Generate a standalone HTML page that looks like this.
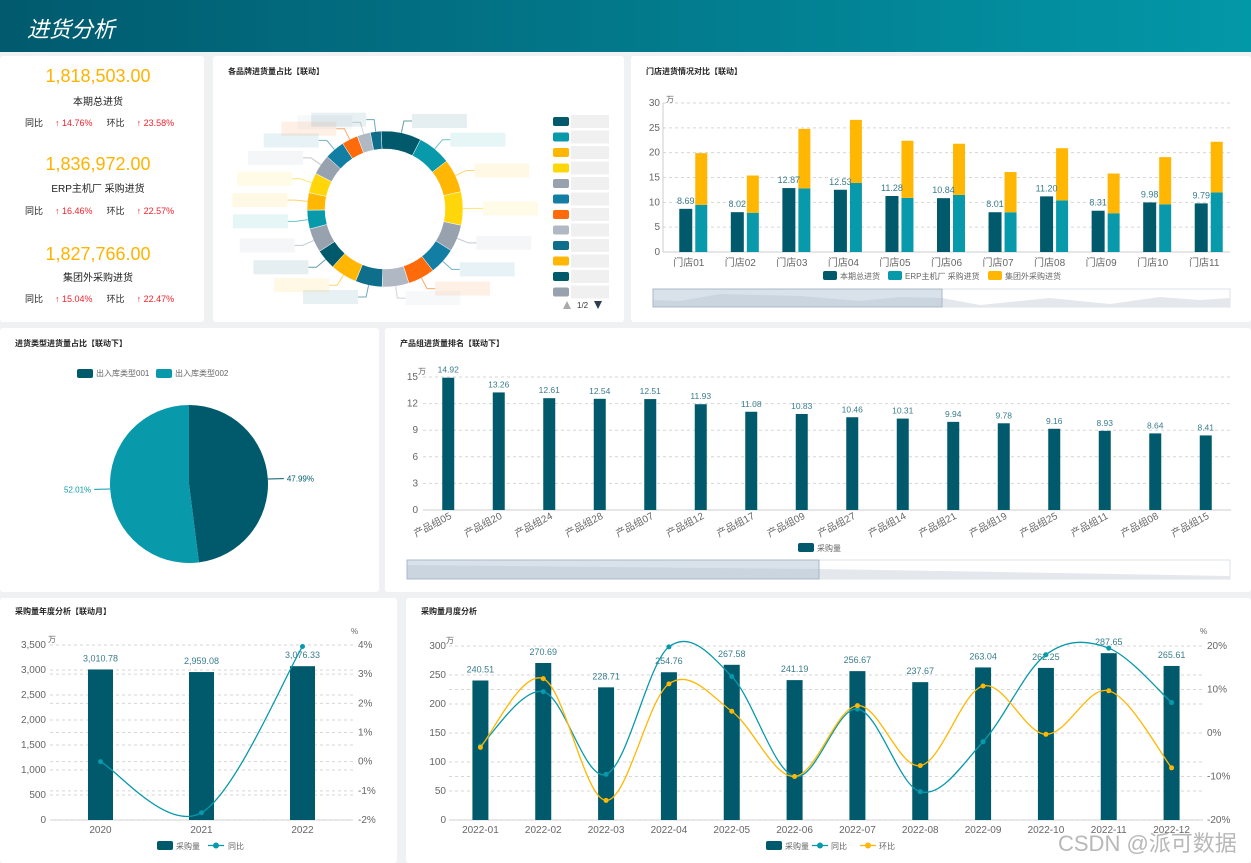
<!DOCTYPE html>
<html><head><meta charset="utf-8">
<style>
body{margin:0;width:1251px;height:863px;background:#f0f1f3;position:relative;overflow:hidden;font-family:"Liberation Sans","Noto Sans CJK SC",sans-serif;}
.hdr{position:absolute;left:0;top:0;width:1251px;height:52px;background:linear-gradient(90deg,#015a6e,#0398a8);}
.hdr span{position:absolute;left:27px;top:12px;color:#fff;font-size:22px;font-style:italic;}
.pn{position:absolute;background:#fff;border-radius:3px;}
.tt{position:absolute;font-size:8px;font-weight:bold;color:#222;}
.kn{position:absolute;width:196px;text-align:center;color:#ffb300;font-size:18px;}
.kl{position:absolute;width:196px;text-align:center;color:#222;font-size:10px;}
.kr{position:absolute;font-size:9px;color:#222;}
.kr b{font-weight:normal;color:#f5222d;margin-left:12px;}
svg{position:absolute;left:0;top:0;}
svg text{font-family:"Liberation Sans","Noto Sans CJK SC",sans-serif;}
</style></head><body>
<div class="hdr"><span>进货分析</span></div>

<div class="pn" style="left:0;top:56px;width:204px;height:266px">
 <div class="kn" style="top:10px">1,818,503.00</div>
 <div class="kl" style="top:37px">本期总进货</div>
 <div class="kr" style="left:25px;top:60px">同比<b>↑ 14.76%</b><span style="margin-left:14px">环比</span><b>↑ 23.58%</b></div>
 <div class="kn" style="top:98px">1,836,972.00</div>
 <div class="kl" style="top:124px">ERP主机厂 采购进货</div>
 <div class="kr" style="left:25px;top:148px">同比<b>↑ 16.46%</b><span style="margin-left:14px">环比</span><b>↑ 22.57%</b></div>
 <div class="kn" style="top:188px">1,827,766.00</div>
 <div class="kl" style="top:213px">集团外采购进货</div>
 <div class="kr" style="left:25px;top:236px">同比<b>↑ 15.04%</b><span style="margin-left:14px">环比</span><b>↑ 22.47%</b></div>
</div>
<div class="pn" style="left:213px;top:56px;width:411px;height:266px"><div class="tt" style="left:15px;top:10px">各品牌进货量占比【联动】</div></div>
<div class="pn" style="left:631px;top:56px;width:620px;height:266px"><div class="tt" style="left:15px;top:10px">门店进货情况对比【联动】</div></div>
<div class="pn" style="left:0;top:328px;width:379px;height:264px"><div class="tt" style="left:15px;top:10px">进货类型进货量占比【联动下】</div></div>
<div class="pn" style="left:385px;top:328px;width:866px;height:264px"><div class="tt" style="left:15px;top:10px">产品组进货量排名【联动下】</div></div>
<div class="pn" style="left:0;top:598px;width:397px;height:265px"><div class="tt" style="left:15px;top:8px">采购量年度分析【联动月】</div></div>
<div class="pn" style="left:406px;top:598px;width:845px;height:265px"><div class="tt" style="left:15px;top:8px">采购量月度分析</div></div>

<svg id="cv" width="1251" height="863"></svg>
<div style="position:absolute;left:1058px;top:826px;font-size:22px;color:rgba(160,160,160,0.75)">CSDN @派可数据</div>

<script>
// ---- data ----
const storeCats=['门店01','门店02','门店03','门店04','门店05','门店06','门店07','门店08','门店09','门店10','门店11'];
const storeTotal=[8.69,8.02,12.87,12.53,11.28,10.84,8.01,11.20,8.31,9.98,9.79];
const storeErp=[9.5,7.9,12.8,13.9,10.9,11.5,8.0,10.4,7.8,9.6,12.0];
const storeExt=[10.4,7.5,12.0,12.7,11.5,10.3,8.1,10.5,8.0,9.5,10.2];
const storeTicks=[0,5,10,15,20,25,30];
const prodCats=['产品组05','产品组20','产品组24','产品组28','产品组07','产品组12','产品组17','产品组09','产品组27','产品组14','产品组21','产品组19','产品组25','产品组11','产品组08','产品组15'];
const prodVals=[14.92,13.26,12.61,12.54,12.51,11.93,11.08,10.83,10.46,10.31,9.94,9.78,9.16,8.93,8.64,8.41];
const prodTicks=[0,3,6,9,12,15];
const monCats=['2022-01','2022-02','2022-03','2022-04','2022-05','2022-06','2022-07','2022-08','2022-09','2022-10','2022-11','2022-12'];
const monVals=[240.51,270.69,228.71,254.76,267.58,241.19,256.67,237.67,263.04,262.25,287.65,265.61];
const monYoy=[-3,9.5,-9.5,19.8,13,-10,5.5,-13.5,-2,18,19.5,7];
const monMom=[-3.3,12.5,-15.5,11.3,5,-10,6.3,-7.5,10.8,-0.3,9.7,-8];
const monTicks=[0,50,100,150,200,250,300];
const monPct=[-20,-10,0,10,20];
const yrCats=['2020','2021','2022'];
const yrVals=[3010.78,2959.08,3076.33];
const yrYoy=[0,-1.75,3.95];
const yrTicks=[0,500,1000,1500,2000,2500,3000,3500];
const yrPct=[-2,-1,0,1,2,3,4];
const pieNames=['出入库类型001','出入库类型002'];
const pieVals=[47.99,52.01];
const brandVals=[30,25,25,25,20,20,20,20,20,20,15,18,14,13,15,15,15,12,10,8];
const brandCols=['#015a6c','#0899ab','#ffb703','#ffd60a','#98a2ae','#137ea3','#ff6b0a','#b0b8c4','#0f6e8c','#ffb703','#015a6c','#98a2ae','#0899ab','#ffb703','#ffd60a','#98a2ae','#137ea3','#ff6b0a','#b0b8c4','#0f6e8c'];

const C1='#015a6c',C2='#0899ab',C3='#ffb703';
const NS='http://www.w3.org/2000/svg';
const cv=document.getElementById('cv');
function mk(t,a,p){const e=document.createElementNS(NS,t);for(const k in a)e.setAttribute(k,a[k]);(p||cv).appendChild(e);return e;}
function lin(d0,d1,r0,r1){return v=>r0+(v-d0)*(r1-r0)/(d1-d0);}
function txt(x,y,s,o){const e=mk('text',Object.assign({x:x,y:y,'font-size':9,fill:'#666'},o||{}));e.textContent=s;return e;}
function smooth(pts){let d='M'+pts[0][0]+','+pts[0][1];for(let i=0;i<pts.length-1;i++){const p0=pts[i-1]||pts[i],p1=pts[i],p2=pts[i+1],p3=pts[i+2]||p2;const t=0.17;d+=' C'+(p1[0]+(p2[0]-p0[0])*t)+','+(p1[1]+(p2[1]-p0[1])*t)+' '+(p2[0]-(p3[0]-p1[0])*t)+','+(p2[1]-(p3[1]-p1[1])*t)+' '+p2[0]+','+p2[1];}return d;}
function grid(ticks,y,x0,x1,lx,fmt){ticks.forEach(t=>{const g=mk('line',{x1:x0,x2:x1,y1:y(t),y2:y(t),stroke:t===0?'#ccc':'#d6d6d6','stroke-dasharray':t===0?'':'3,3'});const l=txt(lx,y(t)+3,fmt?fmt(t):String(t),{'text-anchor':'end','font-size':10});});}

// ---- store chart ----
(function(){
 const x0=663,x1=1230,bw=(x1-x0)/storeCats.length;const y=lin(0,30,252,103);
 grid(storeTicks,y,x0,x1,660);
 txt(666,102,'万',{'font-size':8});
 mk('line',{x1:x0,x2:x0,y1:103,y2:252,stroke:'#ccc'});
 storeCats.forEach((c,i)=>{const cx=x0+bw*(i+0.5);
  const a=mk('rect',{x:cx-9.5,y:y(storeTotal[i]),width:13,height:y(0)-y(storeTotal[i]),fill:C1});
  
  const b=mk('rect',{x:cx+6.5,y:y(storeErp[i]),width:12,height:y(0)-y(storeErp[i]),fill:C2});
  
  const e=mk('rect',{x:cx+6.5,y:y(storeErp[i]+storeExt[i]),width:12,height:y(storeErp[i])-y(storeErp[i]+storeExt[i]),fill:C3});
  
  const v=txt(cx-3,y(storeTotal[i])-5,storeTotal[i].toFixed(2),{'text-anchor':'middle',fill:'#3a7d8c'});
  
  const l=txt(cx,266,c,{'text-anchor':'middle','font-size':10});
  });
 [['本期总进货',823,C1],['ERP主机厂 采购进货',888,C2],['集团外采购进货',988,C3]].forEach(s=>{const r=mk('rect',{x:s[1],y:271,width:14,height:9,rx:2,fill:s[2]});const t=txt(s[1]+17,279,s[0],{'font-size':8});});
 const z=mk('rect',{x:653,y:289,width:577,height:18,fill:'#fff',stroke:'#dde3ea'});
 mk('path',{d:'M653,300 L680,301 L720,294 L800,296 L860,301 L900,297 L942,298 L980,305 L1050,298 L1110,304 L1160,297 L1200,300 L1230,298 L1230,307 L653,307 Z',fill:'#e4e8ec'});
 const zs=mk('rect',{x:653,y:289,width:289,height:18,fill:'rgba(170,190,210,0.45)',stroke:'#aab8c8'});
})();

// ---- product chart ----
(function(){
 const x0=423,x1=1231,bw=(x1-x0)/prodCats.length;const y=lin(0,15,510,377);
 grid(prodTicks,y,x0,x1,418);
 txt(418,374,'万',{'font-size':8});
 prodCats.forEach((c,i)=>{const cx=x0+bw*(i+0.5);
  const b=mk('rect',{x:cx-6,y:y(prodVals[i]),width:12,height:y(0)-y(prodVals[i]),fill:C1});
  
  const v=txt(cx,y(prodVals[i])-5,prodVals[i].toFixed(2),{'text-anchor':'middle',fill:'#3a7d8c','font-size':8.5});
  
  const l=txt(cx+4,518,c,{'text-anchor':'end','font-size':10,transform:'rotate(-28 '+(cx+4)+' 518)'});
  });
 const r=mk('rect',{x:798,y:543,width:16,height:9,rx:2,fill:C1});
 const t=txt(817,551,'采购量',{'font-size':8});
 const z=mk('rect',{x:407,y:560,width:823,height:19,fill:'#fff',stroke:'#dde3ea'});
 mk('path',{d:'M407,565 L819,569 L1000,572 L1230,576 L1230,579 L407,579 Z',fill:'#e4e8ec'});
 const zs=mk('rect',{x:407,y:560,width:412,height:19,fill:'rgba(170,190,210,0.45)',stroke:'#aab8c8'});
})();

// ---- monthly chart ----
(function(){
 const x0=449,x1=1203,bw=(x1-x0)/monCats.length;const y=lin(0,300,820,646);const yr=lin(-20,20,820,646);
 grid(monTicks,y,x0,x1,446);
 monPct.forEach(p=>{const g=mk('line',{x1:x0,x2:x1,y1:yr(p),y2:yr(p),stroke:'#d6d6d6','stroke-dasharray':'3,3'});const t=txt(1207,yr(p)+3,p+'%',{'font-size':10});});
 txt(446,643,'万',{'font-size':8});txt(1200,634,'%',{'font-size':8});
 const X=i=>x0+bw*(i+0.5);
 monCats.forEach((c,i)=>{const cx=X(i);
  const b=mk('rect',{x:cx-8,y:y(monVals[i]),width:16,height:y(0)-y(monVals[i]),fill:C1});
  
  const v=txt(cx,y(monVals[i])-8,monVals[i].toFixed(2),{'text-anchor':'middle',fill:'#3a7d8c','font-size':9});
  
  const l=txt(cx,833,c,{'text-anchor':'middle','font-size':10});
  });
 [[monYoy,C2,'yoy'],[monMom,C3,'mom']].forEach(s=>{const pts=s[0].map((v,i)=>[X(i),yr(v)]);
  const p=mk('path',{d:smooth(pts),fill:'none',stroke:s[1],'stroke-width':1.3});
  pts.forEach(q=>{const c=mk('circle',{cx:q[0],cy:q[1],r:2.5,fill:s[1]});});});
 const r=mk('rect',{x:766,y:841,width:16,height:9,rx:2,fill:C1});
 const t=txt(785,849,'采购量',{'font-size':8});
 [[812,C2,'同比'],[860,C3,'环比']].forEach(s=>{mk('line',{x1:s[0],x2:s[0]+16,y1:845.5,y2:845.5,stroke:s[1],'stroke-width':1.3});mk('circle',{cx:s[0]+8,cy:845.5,r:3,fill:s[1]});const e=txt(s[0]+19,849,s[2],{'font-size':8});});
})();

// ---- yearly chart ----
(function(){
 const x0=50,x1=353,bw=(x1-x0)/yrCats.length;const y=lin(0,3500,820,645);const yr=lin(-2,4,820,645);
 grid(yrTicks,y,x0,x1,46,t=>t.toLocaleString('en-US'));
 yrPct.forEach(p=>{const g=mk('line',{x1:x0,x2:x1,y1:yr(p),y2:yr(p),stroke:'#d6d6d6','stroke-dasharray':'3,3'});const t=txt(358,yr(p)+3,p+'%',{'font-size':10});});
 txt(48,642,'万',{'font-size':8});txt(351,634,'%',{'font-size':8});
 const X=i=>x0+bw*(i+0.5);
 yrCats.forEach((c,i)=>{const cx=X(i);
  const b=mk('rect',{x:cx-12.5,y:y(yrVals[i]),width:25,height:y(0)-y(yrVals[i]),fill:C1});
  
  const v=txt(cx,y(yrVals[i])-8,yrVals[i].toLocaleString('en-US',{minimumFractionDigits:2}),{'text-anchor':'middle',fill:'#3a7d8c','font-size':9});
  
  const l=txt(cx,833,c,{'text-anchor':'middle','font-size':10});
  });
 const pts=yrYoy.map((v,i)=>[X(i),yr(v)]);
 const p=mk('path',{d:smooth(pts),fill:'none',stroke:C2,'stroke-width':1.3});
 pts.forEach(q=>{const c=mk('circle',{cx:q[0],cy:q[1],r:2.5,fill:C2});});
 const r=mk('rect',{x:157,y:841,width:16,height:9,rx:2,fill:C1});
 const t=txt(176,849,'采购量',{'font-size':8});
 mk('line',{x1:208,x2:224,y1:845.5,y2:845.5,stroke:C2,'stroke-width':1.3});mk('circle',{cx:216,cy:845.5,r:3,fill:C2});
 const t2=txt(228,849,'同比',{'font-size':8});
})();

// ---- pie chart ----
(function(){
 const cx=189,cy=484,r=79;const tot=pieVals.reduce((a,b)=>a+b,0);let a0=-Math.PI/2;const cols=[C1,C2];
 pieVals.forEach((v,i)=>{const a1=a0+v/tot*2*Math.PI;const large=(a1-a0)>Math.PI?1:0;
  const p=mk('path',{d:'M'+cx+','+cy+' L'+(cx+r*Math.cos(a0))+','+(cy+r*Math.sin(a0))+' A'+r+','+r+' 0 '+large+' 1 '+(cx+r*Math.cos(a1))+','+(cy+r*Math.sin(a1))+' Z',fill:cols[i]});
  
  const am=(a0+a1)/2;const lx=cx+(r+6)*Math.cos(am),ly=cy+(r+6)*Math.sin(am);
  mk('line',{x1:cx+r*Math.cos(am),y1:cy+r*Math.sin(am),x2:lx+(Math.cos(am)>0?10:-10),y2:ly,stroke:cols[i]});
  const t=txt(lx+(Math.cos(am)>0?13:-13),ly+3,v.toFixed(2)+'%',{'text-anchor':Math.cos(am)>0?'start':'end','font-size':8,fill:cols[i]});
  a0=a1;});
 [[77,C1,pieNames[0]],[156,C2,pieNames[1]]].forEach(s=>{const q=mk('rect',{x:s[0],y:369,width:16,height:9,rx:2,fill:s[1]});const t=txt(s[0]+19,376,s[2],{'font-size':8});});
})();

// ---- brand donut ----
(function(){
 const cx=385,cy=209,R=78,r=60;const tot=brandVals.reduce((a,b)=>a+b,0);let a0=-Math.PI/2-0.05;
 brandVals.forEach((v,i)=>{const a1=a0+v/tot*2*Math.PI;const P=(rr,a)=>(cx+rr*Math.cos(a))+','+(cy+rr*Math.sin(a));
  const p=mk('path',{d:'M'+P(R,a0)+' A'+R+','+R+' 0 0 1 '+P(R,a1)+' L'+P(r,a1)+' A'+r+','+r+' 0 0 0 '+P(r,a0)+' Z',fill:brandCols[i],stroke:'#fff','stroke-width':0.5});
  
  const am=(a0+a1)/2,right=Math.cos(am)>0;const ex=cx+(R+12)*Math.cos(am),ey=cy+(R+12)*Math.sin(am);
  mk('polyline',{points:P(R,am)+' '+ex+','+ey+' '+(ex+(right?8:-8))+','+ey,fill:'none',stroke:brandCols[i],'stroke-opacity':0.6});
  const bx=right?ex+8:ex-8-55;const q=mk('rect',{x:bx,y:ey-7,width:55,height:14,fill:brandCols[i],opacity:0.1});
  a0=a1;});
 for(let i=0;i<12;i++){const s=mk('rect',{x:553,y:117+i*15.5,width:16,height:9,rx:2,fill:brandCols[i]});
  const b=mk('rect',{x:571,y:115+i*15.5,width:38,height:13,fill:'#e2e2e2',opacity:0.5});}
 mk('path',{d:'M563,309 L567,301 L571,309 Z',fill:'#aaa'});mk('path',{d:'M594,301 L602,301 L598,309 Z',fill:'#2c3e50'});
 const pg=txt(577,308,'1/2',{'font-size':8,fill:'#333'});
})();
</script>
</body></html>
